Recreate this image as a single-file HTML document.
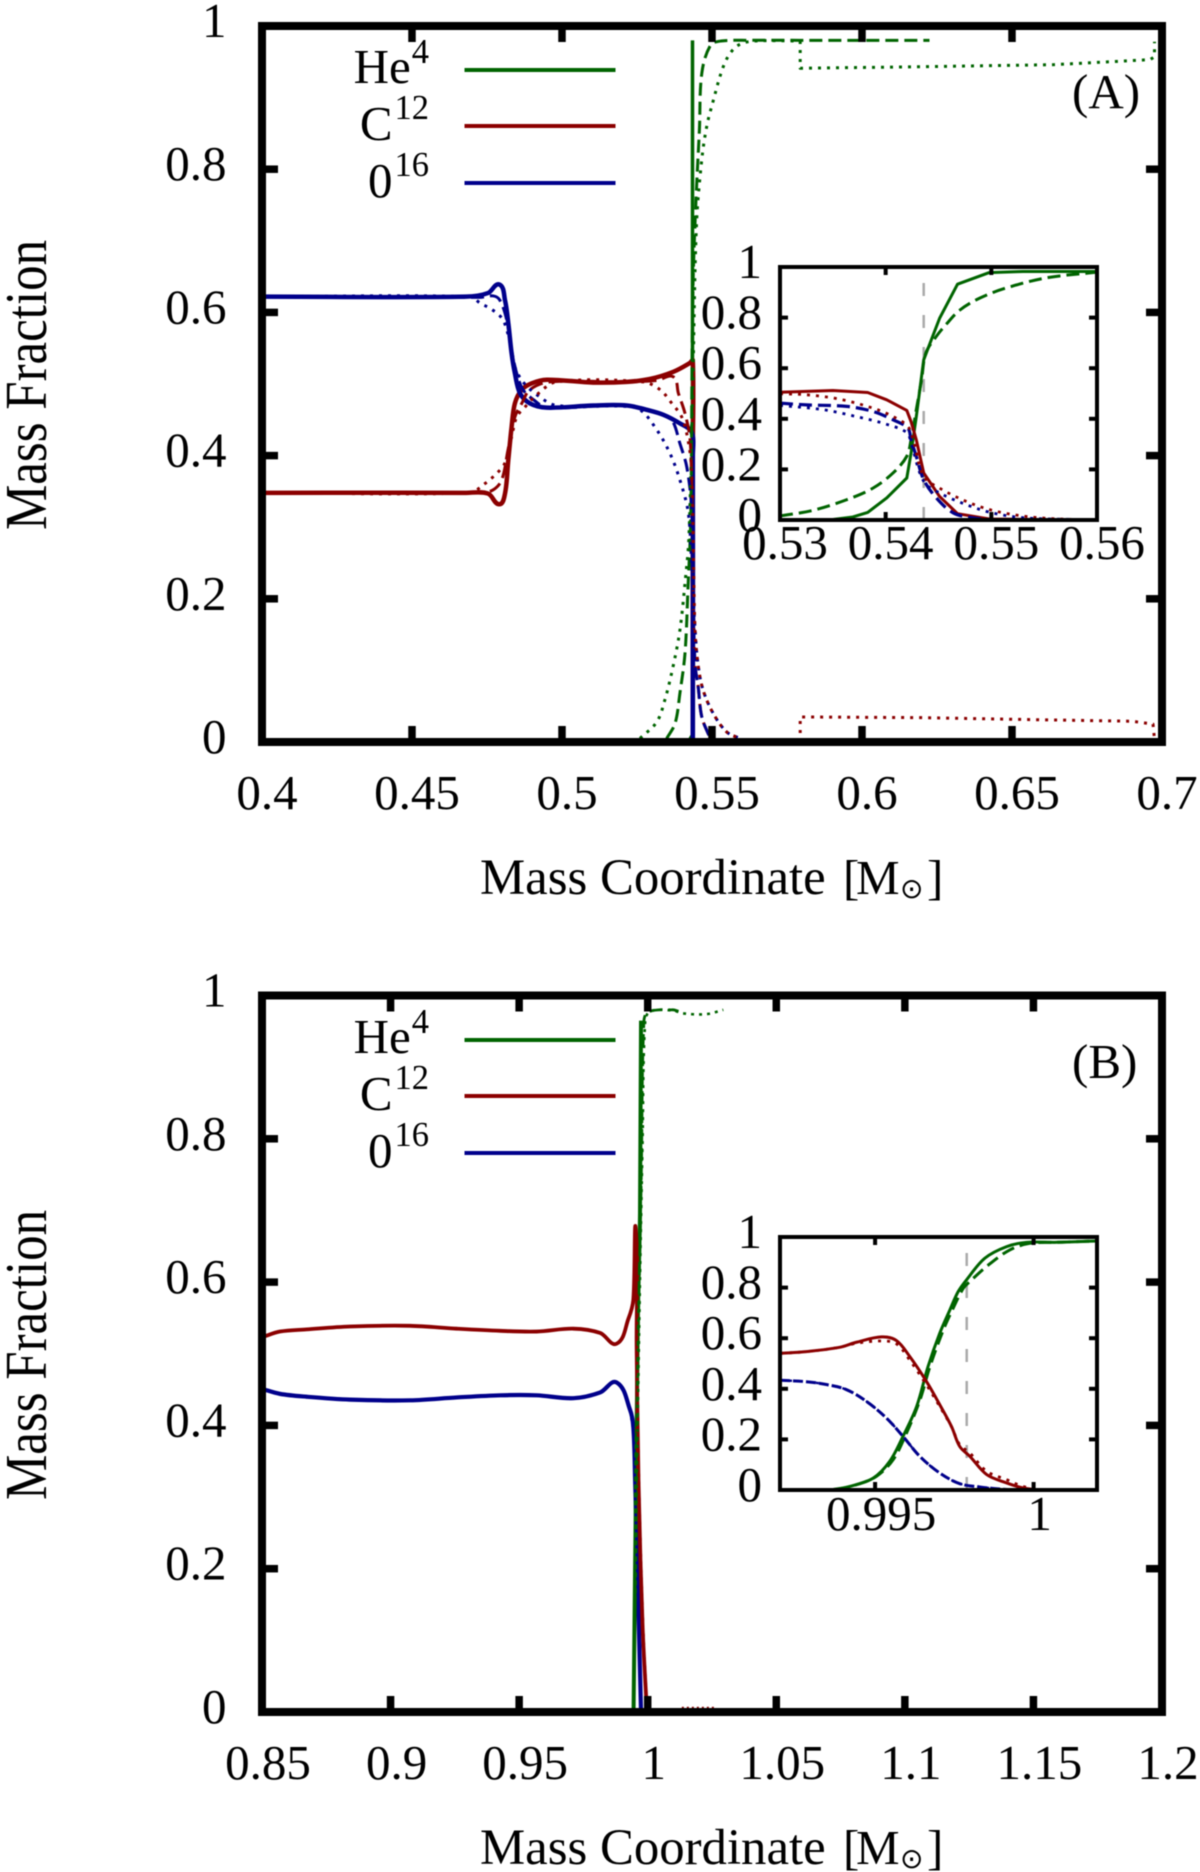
<!DOCTYPE html>
<html lang="en">
<head>
<meta charset="utf-8">
<title>Mass Fraction vs Mass Coordinate</title>
<style>
html,body{margin:0;padding:0;background:#fff;}
svg{display:block;filter:blur(0.45px);}
text{font-family:"Liberation Serif",serif;font-size:49px;fill:#000;}
.sup{font-size:34.5px;}
.sun{font-family:"DejaVu Sans",sans-serif;font-size:28px;}
.title{font-size:50.8px;}
.m{font-size:49px;}
</style>
</head>
<body>
<svg id="chart" xmlns="http://www.w3.org/2000/svg" width="1200" height="1872" viewBox="0 0 1200 1872">
<rect x="0" y="0" width="1200" height="1872" fill="#fff"/>
<g id="plots"></g>

<text x="0" y="0" text-anchor="middle" transform="translate(46 385) rotate(-90) scale(1.04 1.22)">Mass Fraction</text>
<text x="0" y="0" text-anchor="middle" transform="translate(46 1355) rotate(-90) scale(1.04 1.22)">Mass Fraction</text>

<text class="title" x="480" y="894">Mass Coordinate<tspan x="843" class="m">[</tspan><tspan x="856" class="m">M</tspan><tspan x="900" y="898" class="sun">⊙</tspan><tspan x="927" y="894" class="m">]</tspan></text>
<text class="title" x="480" y="1864">Mass Coordinate<tspan x="843" class="m">[</tspan><tspan x="856" class="m">M</tspan><tspan x="900" y="1868" class="sun">⊙</tspan><tspan x="927" y="1864" class="m">]</tspan></text>

<text x="1072" y="108">(A)</text>
<text x="1072" y="1078">(B)</text>

<g>
  <text x="429" y="83" text-anchor="end">He<tspan class="sup" dx="1" dy="-20">4</tspan></text>
  <line x1="464.5" x2="615.5" y1="70" y2="70" stroke="#006400" stroke-width="4"/>
  <text x="429" y="140" text-anchor="end">C<tspan class="sup" dx="2" dy="-21">12</tspan></text>
  <line x1="464.5" x2="615.5" y1="126" y2="126" stroke="#8b0000" stroke-width="4"/>
  <text x="429" y="197" text-anchor="end">0<tspan class="sup" dx="2" dy="-21">16</tspan></text>
  <line x1="464.5" x2="615.5" y1="183" y2="183" stroke="#00008b" stroke-width="4"/>
</g>
<g transform="translate(0 970)">
  <text x="429" y="83" text-anchor="end">He<tspan class="sup" dx="1" dy="-20">4</tspan></text>
  <line x1="464.5" x2="615.5" y1="70" y2="70" stroke="#006400" stroke-width="4"/>
  <text x="429" y="140" text-anchor="end">C<tspan class="sup" dx="2" dy="-21">12</tspan></text>
  <line x1="464.5" x2="615.5" y1="126" y2="126" stroke="#8b0000" stroke-width="4"/>
  <text x="429" y="197" text-anchor="end">0<tspan class="sup" dx="2" dy="-21">16</tspan></text>
  <line x1="464.5" x2="615.5" y1="183" y2="183" stroke="#00008b" stroke-width="4"/>
</g>
</svg>

<script>
/* ---------- tick labels ---------- */
const yTicks = [0, 0.2, 0.4, 0.6, 0.8, 1];
const xTicksA = [0.4, 0.45, 0.5, 0.55, 0.6, 0.65, 0.7];
const xTicksB = [0.85, 0.9, 0.95, 1, 1.05, 1.1, 1.15, 1.2];
const xTicksInsetA = [0.53, 0.54, 0.55, 0.56];
const xTicksInsetB = [0.995, 1];
const markerInsetA = 0.5436;
const markerInsetB = 0.99789;

/* ---------- panel A ---------- */
const aHeSolidM = [0.5405, 0.5425, 0.5435, 0.5435];
const aHeSolidV = [0, 0.003, 0.01, 0.98];
const aHeDashM = [0.5349, 0.5377, 0.5393, 0.541, 0.542, 0.5429, 0.5434, 0.5438, 0.5448, 0.5458, 0.5466, 0.5495, 0.553, 0.5625, 0.58, 0.6225];
const aHeDashV = [0.005, 0.026, 0.068, 0.124, 0.216, 0.31, 0.555, 0.66, 0.77, 0.855, 0.934, 0.973, 0.979, 0.98, 0.98, 0.98];
const aHeDotM = [0.526, 0.5316, 0.5343, 0.537, 0.5393, 0.541, 0.5423, 0.5436, 0.5448, 0.5465, 0.5483, 0.5507, 0.553, 0.5553, 0.5587, 0.564, 0.5794];
const aHeDotV = [0.005, 0.028, 0.059, 0.105, 0.156, 0.222, 0.286, 0.5, 0.72, 0.81, 0.861, 0.9, 0.934, 0.957, 0.973, 0.979, 0.979];
const aHeOuterM = [0.5794, 0.5794, 0.618, 0.664, 0.696, 0.6975, 0.6975];
const aHeOuterV = [0.979, 0.941, 0.943, 0.946, 0.953, 0.957, 0.978];

const aCSolidM = [0.4, 0.468, 0.4753, 0.4791, 0.481, 0.4821, 0.4832, 0.4843, 0.4866, 0.4899, 0.4949, 0.5104, 0.5216, 0.5293, 0.5371, 0.5425, 0.5436, 0.5436, 0.5436];
const aCSolidV = [0.348, 0.348, 0.347, 0.332, 0.347, 0.394, 0.44, 0.473, 0.492, 0.501, 0.506, 0.502, 0.503, 0.507, 0.517, 0.529, 0.533, 0.4, 0];
const aCDashM = [0.4, 0.4727, 0.477, 0.4799, 0.482, 0.4843, 0.4866, 0.4893, 0.496, 0.5216, 0.5316, 0.5371, 0.5388, 0.541, 0.5427, 0.5433, 0.5436, 0.5443, 0.5454, 0.5466, 0.5493];
const aCDashV = [0.348, 0.348, 0.352, 0.366, 0.408, 0.454, 0.473, 0.492, 0.503, 0.503, 0.505, 0.51, 0.487, 0.459, 0.422, 0.34, 0.25, 0.11, 0.077, 0.035, 0.006];
const aCDotM = [0.4, 0.4693, 0.4737, 0.4782, 0.481, 0.4832, 0.4849, 0.4877, 0.4916, 0.4982, 0.527, 0.5327, 0.5366, 0.5399, 0.542, 0.5432, 0.5443, 0.5453, 0.547, 0.5504, 0.5549, 0.5593];
const aCDotV = [0.348, 0.348, 0.359, 0.375, 0.39, 0.426, 0.454, 0.468, 0.485, 0.503, 0.503, 0.492, 0.473, 0.454, 0.422, 0.38, 0.161, 0.11, 0.073, 0.04, 0.014, 0.005];
const aCTailM = [0.5794, 0.5794, 0.62, 0.66, 0.69, 0.697, 0.6975];
const aCTailV = [0, 0.035, 0.034, 0.031, 0.029, 0.025, 0.004];

const aOSolidM = [0.4, 0.468, 0.4753, 0.4791, 0.481, 0.4821, 0.4832, 0.4843, 0.486, 0.4893, 0.4949, 0.5104, 0.5216, 0.5282, 0.5338, 0.5393, 0.5432, 0.5436, 0.5436];
const aOSolidV = [0.622, 0.622, 0.627, 0.639, 0.617, 0.585, 0.543, 0.515, 0.487, 0.473, 0.467, 0.47, 0.47, 0.464, 0.457, 0.445, 0.433, 0.4, 0];
const aODashM = [0.4, 0.4727, 0.4771, 0.4793, 0.4816, 0.4832, 0.4849, 0.487, 0.4905, 0.4949, 0.5216, 0.5327, 0.5366, 0.5393, 0.5416, 0.5432, 0.5436, 0.5443, 0.5454, 0.5466, 0.5493];
const aODashV = [0.622, 0.621, 0.623, 0.617, 0.589, 0.547, 0.515, 0.492, 0.478, 0.467, 0.47, 0.459, 0.45, 0.417, 0.384, 0.328, 0.25, 0.11, 0.077, 0.035, 0.006];
const aODotM = [0.4, 0.4693, 0.4727, 0.477, 0.4804, 0.4827, 0.4843, 0.487, 0.4916, 0.4982, 0.52, 0.526, 0.5316, 0.536, 0.5393, 0.5421, 0.5433, 0.5443, 0.5453, 0.547, 0.5504, 0.5549, 0.5593];
const aODotV = [0.622, 0.622, 0.613, 0.603, 0.589, 0.557, 0.524, 0.503, 0.485, 0.47, 0.469, 0.464, 0.436, 0.403, 0.366, 0.32, 0.24, 0.161, 0.11, 0.073, 0.04, 0.014, 0.005];

/* ---------- inset A ---------- */
const iaHeSolidM = [0.53, 0.535, 0.5369, 0.5383, 0.5401, 0.542, 0.5424, 0.5429, 0.5436, 0.5442, 0.5451, 0.5468, 0.5498, 0.553, 0.5599];
const iaHeSolidV = [0, 0.002, 0.012, 0.03, 0.087, 0.166, 0.264, 0.409, 0.633, 0.699, 0.797, 0.932, 0.978, 0.982, 0.982];
const iaHeDashM = [0.53, 0.5331, 0.5363, 0.5388, 0.5407, 0.542, 0.5424, 0.5429, 0.5434, 0.5438, 0.5448, 0.5457, 0.547, 0.5489, 0.5514, 0.5552, 0.5599];
const iaHeDashV = [0.016, 0.038, 0.08, 0.126, 0.186, 0.252, 0.317, 0.436, 0.555, 0.66, 0.726, 0.772, 0.829, 0.877, 0.917, 0.957, 0.979];
const iaCSolidM = [0.53, 0.535, 0.5383, 0.5401, 0.542, 0.5424, 0.5429, 0.5436, 0.5451, 0.5468, 0.5498, 0.5599];
const iaCSolidV = [0.505, 0.512, 0.504, 0.475, 0.433, 0.389, 0.317, 0.186, 0.093, 0.025, 0.004, 0];
const iaCDotM = [0.53, 0.5325, 0.5356, 0.5388, 0.5407, 0.5421, 0.5426, 0.5436, 0.5451, 0.5476, 0.5501, 0.5533, 0.5565, 0.5599];
const iaCDotV = [0.499, 0.495, 0.478, 0.442, 0.409, 0.37, 0.317, 0.172, 0.126, 0.074, 0.038, 0.014, 0.004, 0.001];
const iaODashM = [0.53, 0.5325, 0.5363, 0.5388, 0.5407, 0.5421, 0.5424, 0.5429, 0.5436, 0.5448, 0.5464, 0.5483, 0.5498];
const iaODashV = [0.462, 0.455, 0.449, 0.429, 0.396, 0.363, 0.317, 0.251, 0.159, 0.087, 0.028, 0.008, 0.001];
const iaODotM = [0.53, 0.5341, 0.5372, 0.5397, 0.542, 0.5424, 0.5436, 0.5451, 0.5476, 0.5501, 0.5533, 0.5599];
const iaODotV = [0.453, 0.436, 0.409, 0.383, 0.346, 0.304, 0.153, 0.107, 0.061, 0.028, 0.008, 0.001];

/* ---------- panel B ---------- */
const bHeSolidM = [0.9945, 0.9962, 0.997, 0.9974];
const bHeSolidV = [0, 0.557, 0.696, 0.965];
const bHeDashM = [0.9945, 0.9962, 0.9975, 0.9985, 1.0002, 1.0098, 1.012];
const bHeDashV = [0, 0.5, 0.75, 0.963, 0.977, 0.98, 0.978];
const bHeDotM = [0.9945, 0.9965, 0.998, 0.999, 1.001, 1.0098, 1.0138, 1.0229, 1.0294];
const bHeDotV = [0, 0.5, 0.8, 0.963, 0.978, 0.979, 0.975, 0.974, 0.98];
const bCSolidM = [0.85, 0.857, 0.8674, 0.8842, 0.9076, 0.9257, 0.9426, 0.9568, 0.9711, 0.9815, 0.9879, 0.9925, 0.9944, 0.9954, 0.9957, 0.9964, 0.998, 0.9997];
const bCSolidV = [0.523, 0.531, 0.534, 0.538, 0.539, 0.535, 0.532, 0.531, 0.535, 0.529, 0.514, 0.549, 0.575, 0.672, 0.51, 0.324, 0.12, 0];
const bCDotM = [0.9925, 0.9944, 0.9954, 0.9958, 0.9966, 0.9982, 0.9998];
const bCDotV = [0.549, 0.57, 0.6, 0.5, 0.32, 0.12, 0];
const bCTailM = [1.013, 1.013, 1.0265, 1.0265];
const bCTailV = [0, 0.006, 0.006, 0];
const bOSolidM = [0.85, 0.857, 0.8674, 0.8842, 0.9076, 0.9257, 0.9426, 0.9568, 0.9711, 0.9815, 0.9879, 0.9931, 0.9944, 0.9951, 0.9974];
const bOSolidV = [0.451, 0.444, 0.44, 0.436, 0.435, 0.439, 0.442, 0.442, 0.438, 0.446, 0.46, 0.422, 0.398, 0.324, 0];
const bODotM = [0.9931, 0.9944, 0.995, 0.9974];
const bODotV = [0.422, 0.39, 0.32, 0];

/* ---------- inset B ---------- */
const ibHeSolidM = [0.99357, 0.9942, 0.99494, 0.99546, 0.99588, 0.99631, 0.99667, 0.99704, 0.99736, 0.99762, 0.99788, 0.99846, 0.99915, 0.99978, 1.00073, 1.00197];
const ibHeSolidV = [0, 0.014, 0.047, 0.113, 0.212, 0.33, 0.488, 0.62, 0.712, 0.784, 0.83, 0.916, 0.962, 0.979, 0.979, 0.984];
const ibHeDashM = [0.99378, 0.99441, 0.99504, 0.99557, 0.99599, 0.99641, 0.99673, 0.99715, 0.99746, 0.99778, 0.99799, 0.99857, 0.99925, 0.99988, 1.00073, 1.00197];
const ibHeDashV = [0, 0.021, 0.054, 0.12, 0.225, 0.354, 0.488, 0.632, 0.718, 0.797, 0.824, 0.889, 0.949, 0.975, 0.979, 0.984];
const ibCSolidM = [0.992, 0.99283, 0.99388, 0.99441, 0.9952, 0.99567, 0.99609, 0.99662, 0.99704, 0.99741, 0.99767, 0.99799, 0.99852, 0.99915, 0.99967, 1.0002, 1.00197];
const ibCSolidV = [0.54, 0.547, 0.564, 0.584, 0.605, 0.591, 0.528, 0.429, 0.337, 0.251, 0.172, 0.133, 0.061, 0.028, 0.008, 0.001, 0];
const ibCDotM = [0.992, 0.99283, 0.99388, 0.99441, 0.9952, 0.99567, 0.99609, 0.99662, 0.99704, 0.99741, 0.99767, 0.99799, 0.99852, 0.99915, 0.99967, 1.0002];
const ibCDotV = [0.54, 0.547, 0.564, 0.58, 0.589, 0.578, 0.514, 0.416, 0.33, 0.25, 0.179, 0.146, 0.074, 0.041, 0.014, 0.004];
const ibOM = [0.992, 0.99283, 0.99346, 0.99409, 0.99473, 0.99536, 0.99588, 0.99641, 0.99704, 0.99767, 0.9983, 0.99894, 0.99967];
const ibOV = [0.434, 0.428, 0.417, 0.397, 0.35, 0.284, 0.212, 0.133, 0.067, 0.025, 0.012, 0.004, 0];

const GREEN = '#006400', RED = '#8b0000', BLUE = '#00008b';
const NS = 'http://www.w3.org/2000/svg';
const plots = document.getElementById('plots');

function makeScale(d0, d1, p0, p1) {
  return function (v) { return p0 + (v - d0) / (d1 - d0) * (p1 - p0); };
}

function smoothPath(px, py, sharp) {
  let d = 'M' + px[0].toFixed(2) + ' ' + py[0].toFixed(2);
  const n = px.length;
  function dir(i) {
    const a = Math.max(i - 1, 0), b = Math.min(i + 1, n - 1);
    const dx = px[b] - px[a], dy = py[b] - py[a];
    const len = Math.hypot(dx, dy) || 1;
    return [dx / len, dy / len];
  }
  for (let i = 0; i < n - 1; i++) {
    if (sharp) {
      d += 'L' + px[i + 1].toFixed(2) + ' ' + py[i + 1].toFixed(2);
      continue;
    }
    const seg = Math.hypot(px[i + 1] - px[i], py[i + 1] - py[i]) / 3;
    const t0 = dir(i), t1 = dir(i + 1);
    d += 'C' + (px[i] + t0[0] * seg).toFixed(2) + ' ' + (py[i] + t0[1] * seg).toFixed(2) + ' ' +
      (px[i + 1] - t1[0] * seg).toFixed(2) + ' ' + (py[i + 1] - t1[1] * seg).toFixed(2) + ' ' +
      px[i + 1].toFixed(2) + ' ' + py[i + 1].toFixed(2);
  }
  return d;
}

function drawSeries(parent, sx, sy, ms, vs, color, width, dash, name, sharp) {
  const el = document.createElementNS(NS, 'path');
  
  
  el.setAttribute('d', smoothPath(ms.map(sx), vs.map(sy), sharp));
  el.setAttribute('fill', 'none');
  el.setAttribute('stroke', color);
  el.setAttribute('stroke-width', width);
  el.setAttribute('stroke-linejoin', 'round');
  if (dash) el.setAttribute('stroke-dasharray', dash);
  parent.appendChild(el);
}

function drawFrame(parent, sx, sy, box, xTicks, tickLen, tickW, frameW, xLabelDy, yLabelRight, xLabelDx) {
  const ticks = document.createElementNS(NS, 'g');
  
  
  function seg(x1, y1, x2, y2, name) {
    const l = document.createElementNS(NS, 'line');
    
    
    l.setAttribute('x1', x1);
    l.setAttribute('y1', y1);
    l.setAttribute('x2', x2);
    l.setAttribute('y2', y2);
    l.setAttribute('stroke', '#000');
    l.setAttribute('stroke-width', tickW);
    ticks.appendChild(l);
  }
  function label(x, y, s, anchor, name) {
    const t = document.createElementNS(NS, 'text');
    
    
    t.setAttribute('x', x);
    t.setAttribute('y', y);
    t.setAttribute('text-anchor', anchor);
    t.textContent = s;
    parent.appendChild(t);
  }
  xTicks.forEach(function (v) {
    const x = sx(v);
    seg(x, box.y1, x, box.y1 - tickLen, 'x-tick-bottom');
    seg(x, box.y0, x, box.y0 + tickLen, 'x-tick-top');
    label(x + xLabelDx, box.y1 + xLabelDy, String(v), 'middle', 'x-tick-label');
  });
  yTicks.forEach(function (v) {
    const y = sy(v);
    seg(box.x0, y, box.x0 + tickLen, y, 'y-tick-left');
    seg(box.x1, y, box.x1 - tickLen, y, 'y-tick-right');
    label(yLabelRight, y + 11, String(v), 'end', 'y-tick-label');
  });
  parent.appendChild(ticks);
  const r = document.createElementNS(NS, 'rect');
  
  
  r.setAttribute('x', box.x0);
  r.setAttribute('y', box.y0);
  r.setAttribute('width', box.x1 - box.x0);
  r.setAttribute('height', box.y1 - box.y0);
  r.setAttribute('fill', 'none');
  r.setAttribute('stroke', '#000');
  r.setAttribute('stroke-width', frameW);
  parent.appendChild(r);
}

function newGroup(name) {
  const g = document.createElementNS(NS, 'g');
  
  
  plots.appendChild(g);
  return g;
}

function marker(parent, x, y0, y1) {
  const l = document.createElementNS(NS, 'line');
  
  
  l.setAttribute('x1', x);
  l.setAttribute('x2', x);
  l.setAttribute('y1', y0);
  l.setAttribute('y2', y1);
  l.setAttribute('stroke', '#aaaaaa');
  l.setAttribute('stroke-width', 2.5);
  l.setAttribute('stroke-dasharray', '13 19');
  parent.appendChild(l);
}

const DASH = '13 6', DOT = '3 6';

/* Panel A */
(function () {
  const box = { x0: 262, x1: 1162, y0: 26, y1: 742 };
  const sx = makeScale(0.4, 0.7, box.x0, box.x1);
  const sy = makeScale(0, 1, box.y1, box.y0);
  const g = newGroup('panel-a');
  drawSeries(g, sx, sy, aHeSolidM, aHeSolidV, GREEN, 3.5, null, 'he4-solid', true);
  drawSeries(g, sx, sy, aCSolidM, aCSolidV, RED, 4.5, null, 'c12-solid');
  drawSeries(g, sx, sy, aOSolidM, aOSolidV, BLUE, 4.5, null, 'o16-solid');
  drawSeries(g, sx, sy, aHeDashM, aHeDashV, GREEN, 3, DASH, 'he4-dashed');
  drawSeries(g, sx, sy, aCDashM, aCDashV, RED, 3, DASH, 'c12-dashed');
  drawSeries(g, sx, sy, aODashM, aODashV, BLUE, 3, DASH, 'o16-dashed');
  drawSeries(g, sx, sy, aHeDotM, aHeDotV, GREEN, 3, DOT, 'he4-dotted');
  drawSeries(g, sx, sy, aHeOuterM, aHeOuterV, GREEN, 3, DOT, 'he4-dotted-outer', true);
  drawSeries(g, sx, sy, aODotM, aODotV, BLUE, 3, DOT, 'o16-dotted');
  drawSeries(g, sx, sy, aCDotM, aCDotV, RED, 3, DOT, 'c12-dotted');
  drawSeries(g, sx, sy, aCTailM, aCTailV, RED, 3, DOT, 'c12-dotted-outer', true);
  drawFrame(g, sx, sy, box, xTicksA, 16, 7.5, 8, 67, 226.5, 5);
})();

/* Inset A */
(function () {
  const box = { x0: 780, x1: 1097, y0: 267, y1: 520 };
  const sx = makeScale(0.53, 0.56, box.x0, box.x1);
  const sy = makeScale(0, 1, box.y1, box.y0);
  const g = newGroup('inset-a');
  marker(g, sx(markerInsetA), box.y1, box.y0);
  drawSeries(g, sx, sy, iaHeSolidM, iaHeSolidV, GREEN, 3, null, 'inset-he4-solid', true);
  drawSeries(g, sx, sy, iaHeDashM, iaHeDashV, GREEN, 3, DASH, 'inset-he4-dashed');
  drawSeries(g, sx, sy, iaCSolidM, iaCSolidV, RED, 3, null, 'inset-c12-solid', true);
  drawSeries(g, sx, sy, iaODashM, iaODashV, BLUE, 3.2, DASH, 'inset-o16-dashed');
  drawSeries(g, sx, sy, iaODotM, iaODotV, BLUE, 2.8, DOT, 'inset-o16-dotted');
  drawSeries(g, sx, sy, iaCDotM, iaCDotV, RED, 2.8, DOT, 'inset-c12-dotted');
  drawFrame(g, sx, sy, box, xTicksInsetA, 8, 4, 4, 39, 762, 5);
})();

/* Panel B */
(function () {
  const box = { x0: 262, x1: 1162, y0: 995.5, y1: 1712 };
  const sx = makeScale(0.85, 1.2, box.x0, box.x1);
  const sy = makeScale(0, 1, box.y1, box.y0);
  const g = newGroup('panel-b');
  drawSeries(g, sx, sy, bOSolidM, bOSolidV, BLUE, 4.2, null, 'o16-solid');
  drawSeries(g, sx, sy, bHeSolidM, bHeSolidV, GREEN, 4, null, 'he4-solid');
  drawSeries(g, sx, sy, bCSolidM, bCSolidV, RED, 3.8, null, 'c12-solid');
  drawSeries(g, sx, sy, bHeDashM, bHeDashV, GREEN, 2.8, DASH, 'he4-dashed');
  drawSeries(g, sx, sy, bHeDotM, bHeDotV, GREEN, 2.6, '3 5', 'he4-dotted');
  drawSeries(g, sx, sy, bODotM, bODotV, BLUE, 2.6, '3 5', 'o16-dotted');
  drawSeries(g, sx, sy, bCDotM, bCDotV, RED, 2.6, '3 5', 'c12-dotted');
  drawSeries(g, sx, sy, bCTailM, bCTailV, RED, 2, '2 3', 'c12-dotted-outer', true);
  drawFrame(g, sx, sy, box, xTicksB, 16, 7.5, 8, 67, 226.5, 6);
})();

/* Inset B */
(function () {
  const box = { x0: 780, x1: 1097, y0: 1237, y1: 1490 };
  const sx = makeScale(0.992, 1.002, box.x0, box.x1);
  const sy = makeScale(0, 1, box.y1, box.y0);
  const g = newGroup('inset-b');
  marker(g, sx(markerInsetB), box.y1, box.y0);
  drawSeries(g, sx, sy, ibHeDashM, ibHeDashV, GREEN, 3, DASH, 'inset-he4-dashed');
  drawSeries(g, sx, sy, ibHeSolidM, ibHeSolidV, GREEN, 3, null, 'inset-he4-solid');
  drawSeries(g, sx, sy, ibCDotM, ibCDotV, RED, 2.8, DOT, 'inset-c12-dotted');
  drawSeries(g, sx, sy, ibCSolidM, ibCSolidV, RED, 3, null, 'inset-c12-solid');
  drawSeries(g, sx, sy, ibOM, ibOV, BLUE, 3, '10 3', 'inset-o16-dashed');
  drawSeries(g, sx, sy, ibOM, ibOV, BLUE, 2.4, DOT, 'inset-o16-dotted');
  drawFrame(g, sx, sy, box, xTicksInsetB, 8, 4, 4, 40, 762, 6);
})();
</script>
</body>
</html>
